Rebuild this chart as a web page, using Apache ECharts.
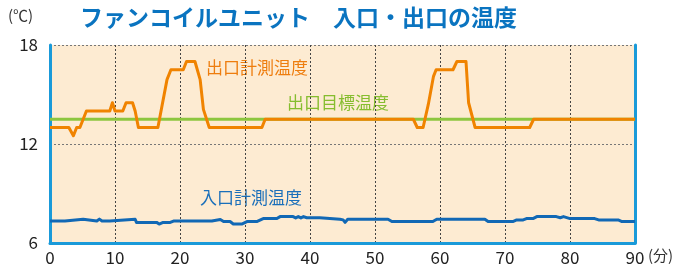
<!DOCTYPE html>
<html>
<head>
<meta charset="utf-8">
<script src="https://cdn.jsdelivr.net/npm/echarts@6/dist/echarts.min.js"></script>
<style>
  html, body { margin: 0; padding: 0; background: #fff; }
  #chart { width: 691px; height: 270px; }
</style>
</head>
<body>
<div id="chart"></div>
<script>
// 出口計測温度 (分, ℃)
var outletTime = [0, 2.9, 3.6, 4.1, 4.6, 5.6, 9.2, 9.6, 10, 11.2, 11.7, 12.7, 13.1, 13.6, 16.6, 18.0, 18.6, 20.5, 21.0, 22.3, 23.1, 23.6, 24.5, 32.6, 33.1, 55.9, 56.5, 57.4, 58.2, 59.0, 59.4, 62.0, 62.6, 64.0, 64.4, 65.4, 73.8, 74.4, 90];
var outletTemp = [13, 13, 12.5, 13, 13, 14, 14, 14.5, 14, 14, 14.5, 14.5, 14.0, 13, 13, 15.9, 16.5, 16.5, 17, 17, 15.9, 14.1, 13, 13, 13.5, 13.5, 13, 13, 14.4, 16.1, 16.5, 16.5, 17, 17, 14.5, 13, 13, 13.5, 13.5];

// 出口目標温度
var targetTime = [0, 90];
var targetTemp = [13.5, 13.5];

// 入口計測温度
var inletTime = [0, 2.3, 2.6, 5.1, 5.4, 7.2, 7.6, 8.0, 9.2, 9.5, 13.1, 13.3, 16.4, 16.8, 17.4, 18.5, 18.7, 19.0, 22.0, 22.2, 22.6, 24.9, 25.2, 26.2, 26.7, 27.7, 28.2, 28.7, 29.0, 29.5, 30.3, 31.8, 32.8, 34.9, 35.4, 37.4, 37.8, 38.2, 38.6, 39.0, 39.5, 41.5, 41.8, 44.6, 45.1, 45.4, 45.8, 52.0, 52.6, 58.9, 59.5, 62.6, 62.8, 63.3, 66.9, 67.4, 71.2, 71.8, 72.8, 73.3, 74.3, 74.9, 77.9, 78.5, 79.0, 80.0, 83.8, 84.4, 87.4, 88.0, 90];
var inletTemp = [7.33, 7.33, 7.44, 7.44, 7.33, 7.33, 7.45, 7.33, 7.33, 7.44, 7.44, 7.25, 7.25, 7.15, 7.25, 7.25, 7.36, 7.33, 7.33, 7.24, 7.33, 7.33, 7.42, 7.42, 7.3, 7.3, 7.15, 7.15, 7.24, 7.15, 7.3, 7.3, 7.48, 7.48, 7.6, 7.6, 7.52, 7.6, 7.52, 7.6, 7.53, 7.53, 7.44, 7.44, 7.4, 7.25, 7.44, 7.44, 7.3, 7.3, 7.44, 7.44, 7.53, 7.44, 7.44, 7.3, 7.3, 7.4, 7.4, 7.48, 7.48, 7.6, 7.6, 7.53, 7.6, 7.48, 7.48, 7.4, 7.4, 7.3, 7.3];

var xTicks = [0, 10, 20, 30, 40, 50, 60, 70, 80, 90];
var yTicks = [6, 12, 18];

function pairs(xs, ys) {
    return xs.map(function (x, i) { return [x, ys[i]]; });
}

var FONT = '"Noto Sans CJK JP", "Noto Sans", sans-serif';
var BLUE_EDGE = '#1a9ad9';

var myChart = echarts.init(document.getElementById('chart'));

option = {
    backgroundColor: '#ffffff',
    animation: false,
    grid: {
        left: 50,
        right: 56,
        top: 45,
        bottom: 27,
        show: true,
        backgroundColor: '#fdebd2',
        borderWidth: 0
    },
    xAxis: {
        type: 'value',
        min: xTicks[0],
        max: xTicks[xTicks.length - 1],
        interval: 10,
        axisLine: { show: true, lineStyle: { color: BLUE_EDGE, width: 3 } },
        axisTick: { show: false },
        axisLabel: { color: '#222', fontSize: 17, fontFamily: FONT, margin: 6 },
        splitLine: { show: true, lineStyle: { color: '#444', type: [2, 2], width: 1 } }
    },
    yAxis: [{
        type: 'value',
        min: yTicks[0],
        max: yTicks[yTicks.length - 1],
        interval: 6,
        axisLine: { show: true, onZero: false, lineStyle: { color: BLUE_EDGE, width: 3 } },
        axisTick: { show: false },
        axisLabel: { color: '#222', fontSize: 17, fontFamily: FONT, margin: 12 },
        splitLine: { show: true, lineStyle: { color: '#777', type: [2, 2], width: 1 } }
    }, {
        type: 'value',
        position: 'right',
        min: yTicks[0],
        max: yTicks[yTicks.length - 1],
        interval: 6,
        axisLine: { show: true, onZero: false, lineStyle: { color: BLUE_EDGE, width: 3 } },
        axisTick: { show: false },
        axisLabel: { show: false },
        splitLine: { show: false }
    }],
    graphic: [
        {
            type: 'text', left: 80, top: 6,
            style: { text: 'ファンコイルユニット　入口・出口の温度', fill: '#0a74c0', font: 'bold 23px ' + FONT }
        },
        {
            type: 'text', left: 8, top: 8,
            style: { text: '(℃)', fill: '#333', font: '15px ' + FONT }
        },
        {
            type: 'text', left: 648, top: 248,
            style: { text: '(分)', fill: '#333', font: '15px ' + FONT }
        },
        {
            type: 'text', left: 206, top: 59,
            style: { text: '出口計測温度', fill: '#ee7d0e', font: '17px ' + FONT }
        },
        {
            type: 'text', left: 287, top: 94,
            style: { text: '出口目標温度', fill: '#86bd2f', font: '17px ' + FONT }
        },
        {
            type: 'text', left: 200, top: 189,
            style: { text: '入口計測温度', fill: '#1a6fba', font: '17px ' + FONT }
        }
    ],
    series: [
        {
            name: '出口目標温度',
            type: 'line',
            data: pairs(targetTime, targetTemp),
            showSymbol: false,
            lineStyle: { color: '#8dc63f', width: 3 },
            z: 2
        },
        {
            name: '出口計測温度',
            type: 'line',
            data: pairs(outletTime, outletTemp),
            showSymbol: false,
            lineStyle: { color: '#f08300', width: 3, join: 'round' },
            z: 3
        },
        {
            name: '入口計測温度',
            type: 'line',
            data: pairs(inletTime, inletTemp),
            showSymbol: false,
            lineStyle: { color: '#1168b5', width: 3, join: 'round' },
            z: 3
        }
    ]
};
myChart.setOption(option);
</script>
</body>
</html>
